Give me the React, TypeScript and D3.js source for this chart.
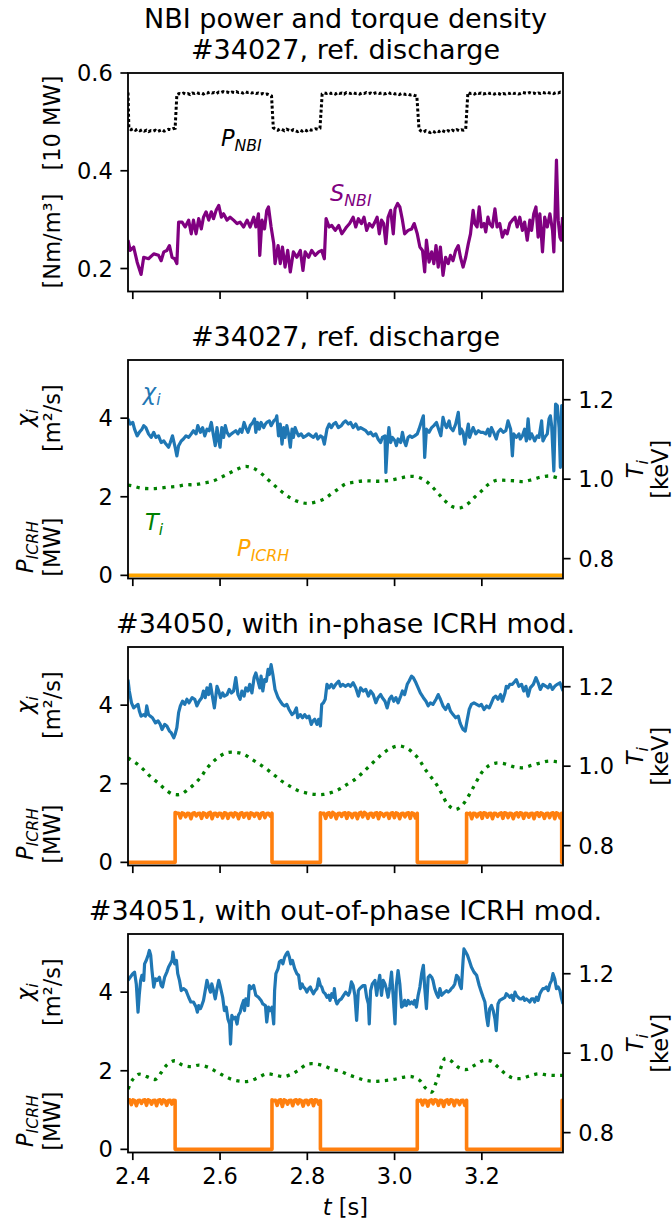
import React from 'react';
import * as d3 from 'd3';

// ---------------- DATA ----------------
const T_DOMAIN: [number, number] = [2.389, 3.386];
const X_TICKS = [2.4, 2.6, 2.8, 3.0, 3.2];
const X_TICK_LABELS = ['2.4', '2.6', '2.8', '3.0', '3.2'];
const NBI_Y_DOMAIN: [number, number] = [0.153, 0.6];
const NBI_Y_TICKS = [0.2, 0.4, 0.6];
const NBI_Y_TICK_LABELS = ['0.2', '0.4', '0.6'];
const CHI_Y_DOMAIN: [number, number] = [-0.08, 5.48];
const CHI_Y_TICKS = [0, 2, 4];
const CHI_Y_TICK_LABELS = ['0', '2', '4'];
const TI_Y_DOMAIN: [number, number] = [0.75, 1.3];
const TI_Y_TICKS = [0.8, 1.0, 1.2];
const TI_Y_TICK_LABELS = ['0.8', '1.0', '1.2'];

const TITLES = [
  ['NBI power and torque density', '#34027, ref. discharge'],
  ['#34027, ref. discharge'],
  ['#34050, with in-phase ICRH mod.'],
  ['#34051, with out-of-phase ICRH mod.'],
];

// P_NBI [10 MW] : modulation phases (start, end) with sampled values
const PNBI_START: [number, number] = [2.389, 0.56];
const PNBI_L1 = [0.487,0.484,0.486,0.483,0.485,0.482,0.484,0.481,0.483,0.480,0.482,0.481,0.483,0.480,0.482,0.484,0.481,0.483,0.485,0.484,0.486,0.487];
const PNBI_H1 = [0.556,0.558,0.557,0.559,0.557,0.558,0.556,0.559,0.558,0.560,0.558,0.559,0.557,0.560,0.559,0.561,0.559,0.560,0.558,0.561,0.560,0.562,0.560,0.561,0.559,0.561,0.560,0.562,0.560,0.561,0.559,0.562,0.560,0.561,0.559,0.560,0.558,0.559,0.557,0.558,0.556,0.557,0.555,0.553];
const PNBI_L2 = [0.488,0.485,0.483,0.486,0.484,0.482,0.485,0.483,0.481,0.484,0.482,0.480,0.483,0.481,0.484,0.482,0.485,0.483,0.484,0.486,0.485,0.487];
const PNBI_H2 = [0.557,0.559,0.558,0.560,0.558,0.559,0.557,0.560,0.558,0.559,0.557,0.560,0.559,0.558,0.560,0.558,0.559,0.557,0.559,0.558,0.560,0.558,0.559,0.557,0.559,0.560,0.558,0.559,0.557,0.558,0.560,0.558,0.559,0.557,0.558,0.556,0.558,0.557,0.556,0.557,0.555,0.556,0.554,0.553];
const PNBI_L3 = [0.485,0.481,0.479,0.482,0.480,0.478,0.481,0.479,0.482,0.480,0.483,0.481,0.479,0.482,0.480,0.483,0.481,0.484,0.482,0.484,0.483,0.485];
const PNBI_H3 = [0.560,0.558,0.559,0.557,0.560,0.558,0.559,0.557,0.558,0.560,0.558,0.559,0.557,0.559,0.558,0.556,0.558,0.557,0.559,0.558,0.560,0.558,0.559,0.557,0.558,0.560,0.559,0.558,0.560,0.558,0.559,0.557,0.559,0.558,0.560,0.559,0.561,0.559,0.560,0.558,0.560,0.559,0.561,0.560];
const PNBI_PHASES: [number, number][] = [[2.391,2.497],[2.501,2.718],[2.722,2.829],[2.834,3.051],[3.056,3.163],[3.168,3.385]];

// S_NBI [Nm/m^3] (t, value)
const SNBI: [number, number][] = [
[2.389,0.258],[2.394,0.237],[2.402,0.244],[2.410,0.213],[2.419,0.188],[2.425,0.223],[2.436,0.220],[2.448,0.230],[2.459,0.227],[2.465,0.216],[2.471,0.234],[2.478,0.237],[2.484,0.247],[2.490,0.223],[2.496,0.220],[2.501,0.210],[2.505,0.295],[2.513,0.295],[2.520,0.285],[2.528,0.299],[2.534,0.271],[2.539,0.299],[2.545,0.271],[2.551,0.302],[2.557,0.281],[2.562,0.305],[2.568,0.316],[2.574,0.299],[2.580,0.316],[2.585,0.302],[2.591,0.319],[2.597,0.329],[2.603,0.305],[2.608,0.312],[2.616,0.299],[2.623,0.305],[2.631,0.299],[2.639,0.292],[2.646,0.295],[2.654,0.285],[2.662,0.299],[2.669,0.285],[2.677,0.305],[2.682,0.285],[2.688,0.312],[2.691,0.227],[2.696,0.299],[2.702,0.281],[2.707,0.319],[2.711,0.326],[2.717,0.285],[2.723,0.251],[2.726,0.210],[2.733,0.247],[2.738,0.210],[2.743,0.244],[2.749,0.203],[2.755,0.237],[2.761,0.193],[2.768,0.234],[2.776,0.223],[2.784,0.237],[2.790,0.196],[2.795,0.234],[2.803,0.223],[2.810,0.237],[2.818,0.227],[2.826,0.234],[2.833,0.237],[2.839,0.220],[2.843,0.302],[2.850,0.285],[2.856,0.288],[2.864,0.278],[2.872,0.288],[2.879,0.271],[2.887,0.281],
[2.890,0.285],[2.897,0.292],[2.905,0.305],[2.911,0.285],[2.917,0.302],[2.924,0.292],[2.930,0.305],[2.936,0.278],[2.942,0.292],[2.949,0.285],[2.955,0.295],[2.960,0.305],[2.965,0.271],[2.970,0.299],[2.975,0.292],[2.980,0.251],[2.985,0.305],[2.991,0.319],[2.997,0.271],[3.001,0.322],[3.007,0.333],[3.012,0.326],[3.018,0.299],[3.023,0.271],[3.031,0.278],[3.039,0.281],[3.045,0.292],[3.052,0.271],[3.058,0.244],[3.064,0.237],[3.069,0.193],[3.073,0.258],[3.079,0.213],[3.085,0.234],[3.090,0.210],[3.095,0.247],[3.100,0.203],[3.105,0.244],[3.111,0.186],[3.117,0.223],[3.123,0.210],[3.128,0.227],[3.134,0.216],[3.140,0.237],[3.146,0.247],[3.151,0.223],[3.157,0.203],[3.163,0.223],[3.169,0.251],[3.174,0.271],[3.180,0.319],[3.184,0.292],[3.189,0.285],[3.194,0.326],[3.199,0.285],[3.205,0.292],[3.209,0.275],[3.214,0.305],[3.218,0.292],[3.224,0.285],[3.230,0.322],[3.235,0.285],[3.241,0.292],[3.247,0.264],[3.253,0.278],[3.258,0.271],[3.264,0.292],[3.270,0.299],[3.276,0.305],[3.281,0.285],[3.287,0.305],[3.293,0.278],[3.298,0.295],[3.304,0.258],[3.310,0.299],[3.314,0.278],[3.319,0.312],[3.324,0.326],[3.329,0.264],[3.333,0.312],[3.339,0.234],[3.344,0.305],[3.350,0.285],[3.356,0.312],[3.362,0.278],[3.365,0.234],[3.368,0.319],[3.371,0.422],[3.375,0.299],[3.379,0.264],[3.382,0.258],[3.385,0.305],
];

// #34027 chi_i [m^2/s]
const CHI_34027: [number, number][] = [
[2.389,3.98],[2.394,3.85],[2.400,3.89],[2.404,3.72],[2.410,3.55],[2.415,3.64],[2.421,3.72],[2.425,3.81],[2.430,3.76],[2.436,3.60],[2.442,3.51],[2.448,3.64],[2.453,3.51],[2.459,3.55],[2.465,3.38],[2.471,3.42],[2.476,3.34],[2.482,3.26],[2.486,3.38],[2.491,3.55],[2.497,3.26],[2.501,3.04],[2.505,3.30],[2.511,3.42],[2.516,3.47],[2.522,3.55],[2.528,3.51],[2.534,3.60],[2.539,3.68],[2.545,3.60],[2.549,3.81],[2.555,3.64],[2.560,3.76],[2.565,3.55],[2.570,3.72],[2.575,3.68],[2.580,3.89],[2.585,3.55],[2.589,3.30],[2.593,3.76],[2.597,3.42],[2.600,3.26],[2.604,3.76],[2.608,3.51],[2.612,3.81],[2.616,3.64],[2.621,3.55],[2.626,3.60],[2.631,3.64],[2.636,3.68],[2.641,3.60],[2.646,3.72],[2.650,3.64],[2.655,3.89],[2.659,3.76],[2.664,3.64],[2.669,3.81],[2.675,3.89],[2.679,3.98],[2.682,3.64],[2.686,3.89],[2.690,3.72],[2.694,3.89],[2.700,3.76],[2.704,3.85],[2.707,3.89],[2.713,3.93],[2.717,3.81],[2.723,3.93],[2.728,3.98],[2.730,4.06],[2.734,3.55],[2.738,3.85],[2.742,3.34],[2.746,3.76],[2.749,3.51],[2.753,3.81],[2.757,3.60],[2.761,3.26],[2.765,3.72],[2.768,3.51],[2.772,3.76],[2.776,3.64],[2.780,3.55],[2.786,3.60],[2.791,3.51],[2.797,3.55],[2.803,3.60],[2.809,3.55],[2.814,3.51],[2.820,3.60],[2.824,3.47],[2.830,3.55],[2.835,3.51],[2.839,3.34],[2.845,3.72],[2.850,3.85],[2.855,3.76],[2.860,3.85],[2.865,3.89],[2.871,3.76],[2.878,3.81],[2.883,3.89],[2.888,3.93],
[2.894,3.85],[2.899,3.89],[2.905,3.76],[2.911,3.85],[2.917,3.72],[2.922,3.76],[2.928,3.72],[2.934,3.68],[2.940,3.60],[2.945,3.64],[2.951,3.55],[2.957,3.60],[2.962,3.47],[2.968,3.38],[2.972,3.51],[2.978,3.55],[2.980,2.62],[2.984,3.42],[2.987,3.76],[2.991,3.38],[2.995,3.51],[3.001,3.42],[3.004,3.30],[3.008,3.47],[3.014,3.38],[3.018,3.64],[3.022,3.42],[3.026,3.30],[3.031,3.51],[3.035,3.55],[3.040,3.51],[3.046,3.55],[3.052,3.60],[3.056,3.72],[3.062,3.93],[3.066,4.06],[3.069,3.00],[3.073,3.72],[3.079,3.64],[3.085,3.76],[3.090,3.81],[3.096,3.89],[3.101,3.72],[3.106,3.55],[3.111,4.02],[3.115,3.85],[3.119,3.76],[3.125,3.93],[3.128,3.76],[3.134,3.68],[3.140,3.85],[3.146,4.15],[3.150,3.60],[3.153,3.72],[3.157,3.64],[3.161,3.34],[3.165,3.60],[3.169,3.85],[3.172,3.51],[3.176,3.64],[3.180,3.76],[3.186,3.60],[3.192,3.68],[3.197,3.64],[3.203,3.64],[3.209,3.60],[3.214,3.72],[3.218,3.55],[3.222,3.76],[3.227,3.64],[3.233,3.47],[3.237,3.64],[3.243,3.72],[3.249,3.64],[3.255,3.68],[3.260,3.93],[3.266,3.72],[3.270,3.04],[3.273,3.60],[3.279,3.51],[3.285,3.60],[3.288,3.47],[3.293,3.55],[3.298,3.72],[3.302,3.42],[3.306,3.98],[3.310,3.47],[3.314,3.60],[3.318,3.51],[3.321,3.42],[3.327,3.55],[3.331,3.51],[3.337,3.93],[3.340,3.42],[3.344,3.51],[3.350,3.60],[3.354,3.98],[3.357,4.06],[3.360,3.81],[3.365,2.66],[3.369,4.36],[3.373,4.32],[3.377,3.76],[3.380,2.75],[3.383,4.32],[3.386,4.19],
];

// #34027 T_i [keV]
const TI_34027: [number, number][] = [
[2.389,0.985],[2.397,0.984],[2.417,0.978],[2.440,0.976],[2.459,0.977],[2.481,0.980],[2.501,0.982],[2.522,0.986],[2.542,0.986],[2.562,0.990],[2.583,0.995],[2.603,1.005],[2.621,1.015],[2.641,1.026],[2.659,1.032],[2.679,1.026],[2.696,1.013],[2.711,0.998],[2.728,0.981],[2.743,0.967],[2.761,0.953],[2.778,0.944],[2.799,0.939],[2.818,0.942],[2.838,0.950],[2.855,0.963],[2.872,0.976],[2.888,0.988],[2.911,0.993],[2.932,0.996],[2.952,0.995],[2.972,0.995],[2.993,0.998],[3.014,1.003],[3.033,1.007],[3.054,1.005],[3.072,0.995],[3.087,0.980],[3.101,0.963],[3.115,0.946],[3.132,0.931],[3.151,0.928],[3.169,0.939],[3.184,0.955],[3.199,0.970],[3.214,0.986],[3.233,0.997],[3.254,0.997],[3.274,0.996],[3.295,0.994],[3.315,0.999],[3.335,1.005],[3.356,1.008],[3.376,1.003],[3.385,1.004],
];

// #34027 P_ICRH [MW] (no ICRH)
const ICRH_34027: [number, number][] = [[2.389, 0], [2.9, 0], [3.386, 0]];

// #34050 chi_i
const CHI_34050: [number, number][] = [
[2.389,4.65],[2.392,4.36],[2.397,4.06],[2.402,3.93],[2.407,3.98],[2.412,4.02],[2.415,3.85],[2.419,3.72],[2.425,3.76],[2.429,3.72],[2.432,3.98],[2.436,3.76],[2.440,3.72],[2.445,3.68],[2.452,3.55],[2.458,3.60],[2.463,3.51],[2.467,3.38],[2.473,3.51],[2.478,3.47],[2.484,3.34],[2.488,3.30],[2.494,3.17],[2.497,3.26],[2.501,3.43],[2.505,3.81],[2.509,3.98],[2.514,4.10],[2.519,4.02],[2.524,4.15],[2.529,4.06],[2.536,4.19],[2.542,4.15],[2.547,3.98],[2.552,4.10],[2.558,4.19],[2.562,4.36],[2.566,4.19],[2.570,4.44],[2.574,4.27],[2.578,4.53],[2.583,4.19],[2.587,3.93],[2.593,4.48],[2.597,4.36],[2.601,4.19],[2.606,4.31],[2.610,4.23],[2.616,4.27],[2.621,4.40],[2.626,4.31],[2.631,4.36],[2.636,4.70],[2.641,4.27],[2.646,4.15],[2.650,4.36],[2.655,4.23],[2.659,4.44],[2.664,4.36],[2.668,4.53],[2.673,4.31],[2.678,4.70],[2.682,4.82],[2.687,4.61],[2.691,4.44],[2.694,4.74],[2.698,4.36],[2.702,4.65],[2.706,4.61],[2.710,4.91],[2.713,4.78],[2.717,5.03],[2.721,4.78],[2.726,4.40],[2.733,4.19],[2.738,4.10],[2.743,4.02],[2.748,3.98],[2.753,4.02],[2.758,3.89],[2.765,3.76],[2.770,3.81],[2.775,3.93],[2.778,3.68],[2.784,3.76],[2.789,3.68],[2.794,3.76],[2.799,3.68],[2.804,3.72],[2.809,3.51],[2.813,3.60],[2.817,3.64],[2.822,3.51],[2.826,3.64],[2.830,3.47],[2.833,4.02],[2.837,4.06],[2.841,4.15],[2.845,4.53],[2.850,4.44],[2.855,4.53],[2.860,4.44],[2.865,4.53],[2.872,4.61],[2.876,4.48],[2.881,4.53],[2.887,4.48],
[2.894,4.53],[2.899,4.48],[2.905,4.57],[2.911,4.44],[2.917,4.23],[2.922,4.44],[2.928,4.36],[2.934,4.40],[2.940,4.23],[2.945,4.36],[2.951,4.27],[2.957,4.06],[2.962,4.19],[2.968,4.27],[2.972,4.19],[2.978,4.10],[2.983,3.93],[2.988,4.15],[2.993,4.23],[2.998,4.10],[3.003,4.19],[3.008,4.06],[3.014,4.23],[3.018,4.36],[3.023,4.27],[3.029,4.53],[3.033,4.61],[3.039,4.74],[3.043,4.70],[3.049,4.57],[3.054,4.44],[3.059,4.31],[3.066,4.19],[3.072,4.10],[3.077,3.98],[3.082,4.06],[3.088,4.02],[3.095,4.15],[3.100,4.27],[3.105,4.15],[3.111,3.98],[3.117,3.89],[3.123,4.02],[3.128,3.85],[3.134,3.76],[3.140,3.68],[3.146,3.72],[3.150,3.55],[3.153,3.47],[3.157,3.38],[3.162,3.34],[3.166,3.60],[3.171,3.89],[3.176,4.02],[3.182,4.06],[3.188,4.02],[3.194,3.98],[3.199,4.02],[3.205,3.89],[3.211,3.98],[3.217,3.93],[3.222,4.06],[3.227,4.19],[3.232,4.23],[3.237,4.15],[3.243,4.27],[3.247,4.10],[3.253,4.31],[3.256,4.48],[3.260,4.44],[3.264,4.53],[3.270,4.53],[3.276,4.61],[3.279,4.65],[3.285,4.48],[3.291,4.53],[3.296,4.36],[3.301,4.48],[3.306,4.23],[3.311,4.44],[3.318,4.53],[3.324,4.70],[3.329,4.57],[3.334,4.40],[3.340,4.53],[3.347,4.48],[3.352,4.44],[3.356,4.53],[3.362,4.40],[3.367,4.48],[3.373,4.53],[3.379,4.57],[3.382,4.48],[3.386,4.36],
];

// #34050 T_i
const TI_34050: [number, number][] = [
[2.389,1.021],[2.394,1.017],[2.412,1.004],[2.427,0.989],[2.442,0.972],[2.458,0.958],[2.473,0.943],[2.491,0.930],[2.509,0.929],[2.526,0.941],[2.543,0.957],[2.557,0.974],[2.568,0.992],[2.581,1.008],[2.598,1.024],[2.616,1.034],[2.635,1.035],[2.654,1.030],[2.673,1.017],[2.692,1.004],[2.710,0.990],[2.726,0.976],[2.742,0.962],[2.758,0.951],[2.778,0.939],[2.797,0.933],[2.817,0.929],[2.837,0.929],[2.856,0.934],[2.875,0.943],[2.891,0.954],[2.911,0.968],[2.927,0.984],[2.942,1.000],[2.957,1.016],[2.972,1.031],[2.989,1.044],[3.008,1.051],[3.027,1.046],[3.044,1.032],[3.058,1.014],[3.069,0.994],[3.082,0.975],[3.096,0.954],[3.107,0.933],[3.123,0.902],[3.140,0.891],[3.156,0.903],[3.169,0.924],[3.179,0.944],[3.188,0.962],[3.199,0.983],[3.213,0.999],[3.232,1.008],[3.253,1.006],[3.272,0.999],[3.293,0.996],[3.314,1.002],[3.333,1.008],[3.353,1.013],[3.373,1.011],[3.385,1.010],
];

// #34050 P_ICRH on-phase samples [MW]
const ICRH_34050_ON1 = [1.27,1.25,1.25,1.13,1.26,1.24,1.16,1.25,1.24,1.11,1.25,1.26,1.18,1.24,1.25,1.12,1.26,1.24,1.15,1.25,1.27,1.11,1.24,1.25,1.17,1.25,1.24,1.13,1.26,1.25,1.12,1.24,1.25,1.16,1.26,1.24,1.11,1.25,1.26,1.15,1.24,1.25,1.12,1.26,1.24,1.17,1.25,1.24,1.12,1.25,1.26,1.14,1.24,1.25,1.18,1.25];
const ICRH_34050_ON2 = [1.26,1.24,1.25,1.12,1.25,1.26,1.15,1.27,1.24,1.11,1.24,1.25,1.17,1.25,1.26,1.12,1.26,1.24,1.14,1.24,1.25,1.11,1.25,1.27,1.16,1.27,1.24,1.12,1.24,1.25,1.15,1.25,1.26,1.11,1.26,1.24,1.17,1.24,1.25,1.12,1.25,1.26,1.14,1.26,1.24,1.11,1.24,1.25,1.16,1.25,1.26,1.12,1.26,1.24,1.13,1.25];
const ICRH_34050_ON3 = [1.25,1.23,1.25,1.11,1.25,1.24,1.16,1.24,1.26,1.12,1.26,1.25,1.15,1.24,1.25,1.11,1.25,1.24,1.17,1.24,1.26,1.12,1.26,1.25,1.14,1.25,1.24,1.11,1.24,1.26,1.16,1.26,1.25,1.12,1.25,1.24,1.15,1.24,1.25,1.11,1.25,1.26,1.17,1.26,1.24,1.12,1.24,1.25,1.14,1.25,1.26,1.11,1.26,1.24,1.13,1.25];
const ICRH_34050_PHASES: [number, number][] = [[2.389,2.497],[2.497,2.719],[2.719,2.830],[2.830,3.052],[3.052,3.165],[3.165,3.383],[3.383,3.386]];

// #34051 chi_i
const CHI_34051: [number, number][] = [
[2.389,4.30],[2.394,4.38],[2.400,4.47],[2.404,4.51],[2.408,4.21],[2.412,3.49],[2.415,3.96],[2.418,4.30],[2.421,4.43],[2.425,4.30],[2.427,4.72],[2.431,4.81],[2.435,4.94],[2.438,5.06],[2.441,4.94],[2.444,4.55],[2.448,4.13],[2.452,4.34],[2.456,4.30],[2.461,4.38],[2.465,4.17],[2.468,4.13],[2.473,4.38],[2.478,4.51],[2.482,4.64],[2.486,4.72],[2.490,4.81],[2.492,5.02],[2.496,4.72],[2.500,4.81],[2.503,4.47],[2.507,4.30],[2.511,4.04],[2.516,4.09],[2.522,4.04],[2.528,3.87],[2.533,3.75],[2.539,3.75],[2.545,3.62],[2.548,3.49],[2.551,3.66],[2.555,3.58],[2.558,3.66],[2.562,3.79],[2.566,4.04],[2.570,4.30],[2.574,4.13],[2.578,4.00],[2.581,4.21],[2.585,4.04],[2.589,3.83],[2.593,4.09],[2.597,4.30],[2.600,4.17],[2.606,3.87],[2.610,3.53],[2.614,3.62],[2.618,3.32],[2.622,3.19],[2.624,2.68],[2.627,3.41],[2.631,3.32],[2.635,3.36],[2.639,3.19],[2.642,3.41],[2.646,3.49],[2.650,3.66],[2.654,3.79],[2.656,3.53],[2.659,3.83],[2.664,3.66],[2.667,4.17],[2.671,4.09],[2.677,4.17],[2.682,3.92],[2.688,3.87],[2.694,3.79],[2.698,3.70],[2.704,3.66],[2.707,3.24],[2.711,3.62],[2.715,3.53],[2.719,3.62],[2.723,3.19],[2.725,4.04],[2.728,4.47],[2.733,4.60],[2.736,4.77],[2.740,4.81],[2.744,4.72],[2.748,4.89],[2.752,4.98],[2.755,5.02],[2.759,4.89],[2.762,4.72],[2.766,4.81],[2.771,4.60],[2.776,4.47],[2.780,4.43],[2.784,4.09],[2.788,4.21],[2.791,4.13],[2.795,4.09],[2.799,4.00],[2.803,4.09],[2.807,4.13],[2.810,4.04],[2.814,3.96],[2.818,4.04],[2.822,4.09],[2.826,4.34],[2.830,4.17],[2.833,4.13],[2.837,4.00],[2.841,3.96],[2.845,3.87],[2.849,3.92],[2.852,3.79],[2.856,3.96],[2.860,3.87],[2.862,4.09],[2.865,3.79],[2.868,3.70],[2.873,3.79],[2.878,3.83],[2.883,3.92],[2.888,4.00],
[2.894,3.92],[2.897,4.00],[2.901,4.26],[2.905,4.17],[2.909,3.92],[2.913,3.28],[2.917,4.04],[2.920,4.09],[2.924,4.13],[2.928,4.17],[2.932,4.17],[2.936,3.87],[2.940,3.70],[2.942,3.19],[2.945,4.04],[2.949,4.21],[2.955,4.30],[2.959,3.92],[2.962,4.17],[2.966,4.43],[2.970,3.92],[2.974,4.30],[2.978,4.21],[2.981,4.09],[2.985,3.87],[2.989,4.13],[2.993,4.51],[2.997,3.87],[3.001,3.19],[3.004,4.17],[3.008,4.55],[3.012,4.21],[3.016,3.62],[3.020,3.66],[3.023,3.79],[3.027,3.66],[3.031,3.79],[3.035,3.70],[3.039,3.75],[3.043,3.70],[3.046,3.79],[3.050,3.62],[3.054,3.92],[3.058,4.13],[3.062,4.47],[3.066,4.68],[3.069,4.13],[3.073,3.58],[3.077,4.38],[3.081,4.43],[3.085,4.38],[3.088,4.30],[3.092,4.09],[3.096,3.96],[3.100,3.87],[3.104,4.09],[3.108,3.92],[3.111,3.96],[3.115,4.00],[3.119,4.04],[3.123,4.00],[3.127,4.04],[3.130,4.09],[3.134,4.13],[3.138,4.21],[3.142,4.43],[3.146,4.38],[3.150,4.17],[3.153,4.09],[3.157,4.81],[3.159,5.10],[3.163,5.02],[3.167,4.94],[3.171,4.81],[3.176,4.64],[3.182,4.51],[3.188,4.43],[3.194,4.17],[3.199,4.00],[3.203,3.87],[3.207,3.75],[3.211,3.36],[3.214,3.15],[3.218,3.58],[3.222,3.66],[3.226,3.53],[3.230,3.32],[3.233,3.02],[3.237,3.70],[3.241,3.79],[3.247,3.83],[3.253,3.87],[3.256,3.96],[3.260,3.92],[3.264,3.87],[3.268,3.92],[3.272,3.79],[3.276,4.00],[3.279,3.92],[3.283,3.87],[3.287,3.83],[3.291,3.83],[3.295,3.87],[3.298,3.79],[3.302,3.83],[3.306,3.79],[3.310,3.75],[3.314,3.83],[3.318,3.83],[3.321,3.75],[3.325,3.87],[3.329,3.79],[3.333,3.96],[3.337,4.04],[3.340,4.09],[3.344,4.09],[3.348,4.13],[3.352,4.04],[3.356,4.21],[3.360,4.30],[3.363,4.47],[3.367,4.34],[3.371,4.09],[3.375,4.13],[3.379,4.04],[3.382,3.87],[3.386,3.70],
];

// #34051 T_i
const TI_34051: [number, number][] = [
[2.389,0.910],[2.390,0.912],[2.398,0.931],[2.413,0.947],[2.432,0.941],[2.452,0.934],[2.465,0.951],[2.478,0.970],[2.496,0.981],[2.514,0.970],[2.533,0.966],[2.552,0.970],[2.572,0.965],[2.591,0.954],[2.609,0.943],[2.627,0.934],[2.648,0.929],[2.668,0.930],[2.688,0.939],[2.707,0.948],[2.726,0.945],[2.746,0.941],[2.765,0.948],[2.781,0.958],[2.799,0.972],[2.818,0.973],[2.838,0.968],[2.856,0.960],[2.877,0.954],[2.896,0.945],[2.917,0.937],[2.936,0.931],[2.956,0.929],[2.978,0.931],[2.998,0.934],[3.018,0.939],[3.039,0.941],[3.058,0.931],[3.071,0.912],[3.085,0.902],[3.094,0.923],[3.101,0.945],[3.107,0.966],[3.116,0.987],[3.130,0.980],[3.147,0.964],[3.166,0.959],[3.184,0.970],[3.203,0.981],[3.221,0.980],[3.237,0.965],[3.253,0.949],[3.270,0.938],[3.289,0.936],[3.310,0.943],[3.330,0.948],[3.350,0.945],[3.371,0.944],[3.385,0.944],
];

// #34051 P_ICRH on-phase samples [MW]
const ICRH_34051_ON0 = [1.25,1.26,1.14,1.26,1.24,1.11,1.24,1.25,1.17,1.25,1.26,1.12,1.26,1.24,1.15,1.24,1.25,1.11,1.25,1.26,1.16,1.26,1.24,1.12,1.24,1.25,1.15,1.25,1.24];
const ICRH_34051_ON1 = [1.26,1.24,1.25,1.12,1.25,1.26,1.09,1.26,1.24,1.15,1.24,1.25,1.11,1.25,1.26,1.16,1.26,1.24,1.10,1.24,1.25,1.14,1.25,1.26,1.11,1.26,1.25,1.15,1.24];
const ICRH_34051_ON2 = [1.25,1.23,1.25,1.13,1.25,1.24,1.10,1.24,1.26,1.16,1.26,1.25,1.12,1.25,1.24,1.09,1.24,1.26,1.15,1.26,1.25,1.11,1.25,1.24,1.14,1.24,1.25,1.12,1.25];
const ICRH_34051_END = [1.25, 1.25];
const ICRH_34051_PHASES: [number, number][] = [[2.389,2.497],[2.497,2.719],[2.719,2.830],[2.830,3.052],[3.052,3.165],[3.165,3.384],[3.384,3.386]];
const OFF = [0, 0];

// ---------------- helpers ----------------
type Pt = [number, number];
function fromPhases(phases: [number, number][], vals: number[][]): Pt[] {
  const out: Pt[] = [];
  phases.forEach(([t0, t1], k) => {
    const v = vals[k];
    const n = v.length;
    v.forEach((y, i) => out.push([t0 + ((t1 - t0) * i) / (n - 1), y]));
  });
  return out;
}

const PNBI: Pt[] = [PNBI_START, ...fromPhases(PNBI_PHASES, [PNBI_L1, PNBI_H1, PNBI_L2, PNBI_H2, PNBI_L3, PNBI_H3])];
const ICRH_34050: Pt[] = fromPhases(ICRH_34050_PHASES, [OFF, ICRH_34050_ON1, OFF, ICRH_34050_ON2, OFF, ICRH_34050_ON3, OFF]);
const ICRH_34051: Pt[] = fromPhases(ICRH_34051_PHASES, [ICRH_34051_ON0, OFF, ICRH_34051_ON1, OFF, ICRH_34051_ON2, OFF, ICRH_34051_END]);

// ---------------- layout ----------------
const W = 672, H = 1223;
const X0 = 128, X1 = 563;
const TOPS = [73, 360, 647, 934];
const PH = 218.5;
const FONT = '"DejaVu Sans", sans-serif';
const FS = 22.5;
const TFS = 27;
const TICK = 7.6;
const PAD = 7.6;

const x = d3.scaleLinear().domain(T_DOMAIN).range([X0, X1]);

function Sub({ x: px, y: py, main, sub, color, size = FS, anchor = 'start' }: any) {
  return (
    <text x={px} y={py} fill={color} fontSize={size} fontFamily={FONT} textAnchor={anchor}>
      <tspan fontStyle="italic">{main}</tspan>
      <tspan fontStyle="italic" fontSize={size * 0.7} dy={size * 0.22}>{sub}</tspan>
    </text>
  );
}

function RotSub({ cx, cy, main, sub, size = FS }: any) {
  return (
    <text transform={`translate(${cx},${cy}) rotate(-90)`} fontSize={size} fontFamily={FONT} textAnchor="middle" fill="#000">
      <tspan fontStyle="italic">{main}</tspan>
      <tspan fontStyle="italic" fontSize={size * 0.7} dy={size * 0.22}>{sub}</tspan>
    </text>
  );
}

function RotText({ cx, cy, text, size = FS }: any) {
  return (
    <text transform={`translate(${cx},${cy}) rotate(-90)`} fontSize={size} fontFamily={FONT} textAnchor="middle" fill="#000">{text}</text>
  );
}

function XAxis({ top, labels }: { top: number; labels: boolean }) {
  const yb = top + PH;
  return (
    <g>
      {X_TICKS.map((t, i) => (
        <g key={i}>
          <line x1={x(t)} x2={x(t)} y1={yb} y2={yb + TICK} stroke="#000" strokeWidth={1.7} />
          {labels && (
            <text x={x(t)} y={yb + TICK + PAD + 16.6} textAnchor="middle" fontSize={FS} fontFamily={FONT}>{X_TICK_LABELS[i]}</text>
          )}
        </g>
      ))}
    </g>
  );
}

function YAxisLeft({ y, ticks, labels }: any) {
  return (
    <g>
      {ticks.map((v: number, i: number) => (
        <g key={i}>
          <line x1={X0 - TICK} x2={X0} y1={y(v)} y2={y(v)} stroke="#000" strokeWidth={1.7} />
          <text x={X0 - TICK - PAD} y={y(v)} dy="0.36em" textAnchor="end" fontSize={FS} fontFamily={FONT}>{labels[i]}</text>
        </g>
      ))}
    </g>
  );
}

function YAxisRight({ y, ticks, labels }: any) {
  return (
    <g>
      {ticks.map((v: number, i: number) => (
        <g key={i}>
          <line x1={X1} x2={X1 + TICK} y1={y(v)} y2={y(v)} stroke="#000" strokeWidth={1.7} />
          <text x={X1 + TICK + PAD} y={y(v)} dy="0.36em" textAnchor="start" fontSize={FS} fontFamily={FONT}>{labels[i]}</text>
        </g>
      ))}
    </g>
  );
}

function linePath(data: Pt[], y: any, curve?: any) {
  const l = d3.line<Pt>().x((d) => x(d[0])).y((d) => y(d[1]));
  if (curve) l.curve(curve);
  return l(data) || '';
}

function TransportPanel({ idx, chi, ti, icrh, icrhColor, showLabels }: any) {
  const top = TOPS[idx];
  const yL = d3.scaleLinear().domain(CHI_Y_DOMAIN).range([top + PH, top]);
  const yR = d3.scaleLinear().domain(TI_Y_DOMAIN).range([top + PH, top]);
  const clipId = `clip${idx}`;
  return (
    <g>
      <defs>
        <clipPath id={clipId}><rect x={X0} y={top} width={X1 - X0} height={PH} /></clipPath>
      </defs>
      <text x={(X0 + X1) / 2} y={top - 14.5} textAnchor="middle" fontSize={TFS} fontFamily={FONT}>{TITLES[idx][0]}</text>
      <g clipPath={`url(#${clipId})`}>
        <path d={linePath(chi, yL)} fill="none" stroke="#1f77b4" strokeWidth={3.2} strokeLinejoin="round" />
        <path d={linePath(ti, yR, d3.curveCatmullRom)} fill="none" stroke="#008000" strokeWidth={3.3} strokeDasharray="3.3,5.4" />
        <path d={linePath(icrh, yL)} fill="none" stroke={icrhColor} strokeWidth={3.6} strokeLinejoin="round" />
      </g>
      <rect x={X0} y={top} width={X1 - X0} height={PH} fill="none" stroke="#000" strokeWidth={1.8} />
      <XAxis top={top} labels={idx === 3} />
      <YAxisLeft y={yL} ticks={CHI_Y_TICKS} labels={CHI_Y_TICK_LABELS} />
      <YAxisRight y={yR} ticks={TI_Y_TICKS} labels={TI_Y_TICK_LABELS} />
      <RotSub cx={33} cy={yL(4)} main="χ" sub="i" />
      <RotText cx={60} cy={yL(4)} text="[m²/s]" />
      <RotSub cx={33} cy={yL(0.72)} main="P" sub="ICRH" />
      <RotText cx={60} cy={yL(0.72)} text="[MW]" />
      <RotSub cx={643} cy={top + PH / 2} main="T" sub="i" />
      <RotText cx={668} cy={top + PH / 2} text="[keV]" />
      {showLabels && (
        <g>
          <Sub x={x(2.423)} y={yL(4.46)} main="χ" sub="i" color="#1f77b4" />
          <Sub x={x(2.428)} y={yL(1.15)} main="T" sub="i" color="#008000" />
          <Sub x={x(2.639)} y={yL(0.49)} main="P" sub="ICRH" color="#ffa500" />
        </g>
      )}
    </g>
  );
}

function NbiPanel() {
  const top = TOPS[0];
  const y = d3.scaleLinear().domain(NBI_Y_DOMAIN).range([top + PH, top]);
  return (
    <g>
      <defs>
        <clipPath id="clipNbi"><rect x={X0} y={top} width={X1 - X0} height={PH} /></clipPath>
      </defs>
      <text x={(X0 + X1) / 2} y={27.5} textAnchor="middle" fontSize={TFS} fontFamily={FONT}>{TITLES[0][0]}</text>
      <text x={(X0 + X1) / 2} y={58.5} textAnchor="middle" fontSize={TFS} fontFamily={FONT}>{TITLES[0][1]}</text>
      <g clipPath="url(#clipNbi)">
        <path d={linePath(PNBI, y)} fill="none" stroke="#000" strokeWidth={3} strokeDasharray="3,2.3" />
        <path d={linePath(SNBI, y)} fill="none" stroke="#800080" strokeWidth={3.2} strokeLinejoin="round" />
      </g>
      <rect x={X0} y={top} width={X1 - X0} height={PH} fill="none" stroke="#000" strokeWidth={1.8} />
      <XAxis top={top} labels={false} />
      <YAxisLeft y={y} ticks={NBI_Y_TICKS} labels={NBI_Y_TICK_LABELS} />
      <RotText cx={60} cy={241} text="[Nm/m³]" />
      <RotText cx={60} cy={123} text="[10 MW]" />
      <Sub x={x(2.602)} y={y(0.451)} main="P" sub="NBI" color="#000" />
      <Sub x={x(2.852)} y={y(0.338)} main="S" sub="NBI" color="#800080" />
    </g>
  );
}

export default function App() {
  return (
    <div style={{ position: 'absolute', left: 0, top: 0 }}>
      <svg width={W} height={H} viewBox={`0 0 ${W} ${H}`} style={{ display: 'block', background: '#fff' }}>
        <rect width={W} height={H} fill="#fff" />
        <NbiPanel />
        <TransportPanel idx={1} chi={CHI_34027} ti={TI_34027} icrh={ICRH_34027} icrhColor="#ffa500" showLabels={true} />
        <TransportPanel idx={2} chi={CHI_34050} ti={TI_34050} icrh={ICRH_34050} icrhColor="#ff7f0e" showLabels={false} />
        <TransportPanel idx={3} chi={CHI_34051} ti={TI_34051} icrh={ICRH_34051} icrhColor="#ff7f0e" showLabels={false} />
        <text x={(X0 + X1) / 2} y={1215} textAnchor="middle" fontSize={FS} fontFamily={FONT}>
          <tspan fontStyle="italic">t</tspan> [s]
        </text>
      </svg>
    </div>
  );
}
